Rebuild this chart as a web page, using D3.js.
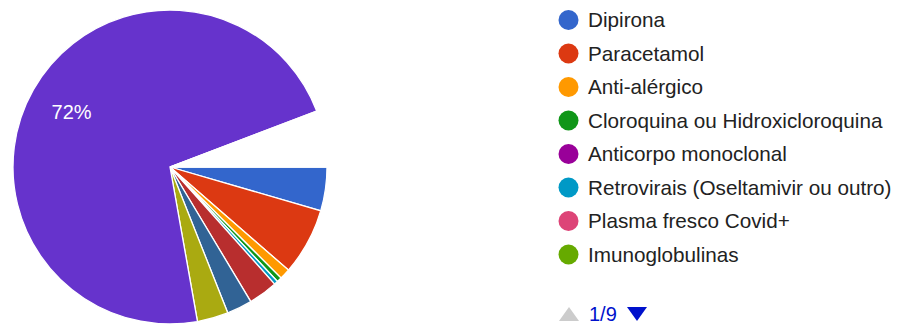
<!DOCTYPE html>
<html>
<head>
<meta charset="utf-8">
<script src="https://cdn.jsdelivr.net/npm/d3@7"></script>
<style>
  body { margin: 0; background: #fff; }
  text { font-family: "Liberation Sans", Arial, sans-serif; }
</style>
</head>
<body>
<script>
// legend categories (page 1 of 9)
const categories = [
  "Dipirona", "Paracetamol", "Anti-alérgico", "Cloroquina ou Hidroxicloroquina",
  "Anticorpo monoclonal", "Retrovirais (Oseltamivir ou outro)", "Plasma fresco Covid+", "Imunoglobulinas"
];
// slice shares in %, in drawing order (the first 8 match the legend, rest are on later legend pages)
const sliceNames = categories.concat(["Outro 9", "Outro 10", "Outro 11", "Outro 12", "Outro 13", "Outro 14", "Outro 15", "Outro 16"]);
const sliceValues = [4.5, 6.9, 1.1, 0.5, 0, 0.4, 0, 0, 3.0, 2.6, 0, 0, 3.2, 72.0, 0.1, 5.7];
const sliceColors = [
  "#3366cc", "#dc3912", "#ff9900", "#109618", "#990099", "#0099c6", "#dd4477", "#66aa00",
  "#b82e2e", "#316395", "#994499", "#22aa99", "#aaaa11", "#6633cc", "#e67300", "#ffffff"
];
const pageLabel = "1/9";

const width = 900, height = 326;
const cx = 170, cy = 167, radius = 157;

const svg = d3.select("body").append("svg")
  .attr("width", width)
  .attr("height", height);

const data = sliceNames.map(function (n, i) { return { name: n, value: sliceValues[i], color: sliceColors[i] }; });
const total = d3.sum(data, function (d) { return d.value; });

// pie starts at 3 o'clock and goes clockwise
const pie = d3.pie()
  .sort(null)
  .value(function (d) { return d.value; })
  .startAngle(Math.PI / 2)
  .endAngle(Math.PI / 2 + 2 * Math.PI);

const arc = d3.arc().innerRadius(0).outerRadius(radius);
const labelArc = d3.arc().innerRadius(radius * 0.72).outerRadius(radius * 0.72);

const g = svg.append("g").attr("transform", "translate(" + cx + "," + cy + ")");

const arcs = pie(data);

g.selectAll("path.slice")
  .data(arcs.filter(function (d) { return d.data.value > 0; }))
  .enter().append("path")
  .attr("class", "slice")
  .attr("d", arc)
  .attr("fill", function (d) { return d.data.color; })
  .attr("stroke", "#fff")
  .attr("stroke-width", 1.3);

// percentage labels on large slices
g.selectAll("text.pct")
  .data(arcs.filter(function (d) { return d.data.value / total >= 0.1; }))
  .enter().append("text")
  .attr("class", "pct")
  .attr("transform", function (d) { return "translate(" + labelArc.centroid(d) + ")"; })
  .attr("text-anchor", "middle")
  .attr("dy", "0.36em")
  .attr("fill", "#fff")
  .style("font-size", "20px")
  .text(function (d) { return Math.round(d.data.value / total * 100) + "%"; });

// legend
const legendY = d3.scalePoint().domain(categories).range([20, 254.5]);
const legend = svg.append("g").attr("class", "legend");

const rows = legend.selectAll("g.row")
  .data(categories)
  .enter().append("g")
  .attr("class", "row")
  .attr("transform", function (d) { return "translate(568.5," + legendY(d) + ")"; });

rows.append("circle")
  .attr("r", 10)
  .attr("fill", function (d, i) { return sliceColors[i]; });

rows.append("text")
  .attr("x", 19.5)
  .attr("y", 7)
  .attr("fill", "#222")
  .style("font-size", "20.7px")
  .text(function (d) { return d; });

// pager
const pager = svg.append("g").attr("transform", "translate(0,314)");
pager.append("path")
  .attr("d", "M559,7 L579,7 L569,-7 Z")
  .attr("fill", "#cccccc");
pager.append("text")
  .attr("x", 589)
  .attr("y", 7)
  .attr("fill", "#0011cc")
  .style("font-size", "20px")
  .text(pageLabel);
pager.append("path")
  .attr("d", "M627,-7 L647,-7 L637,7 Z")
  .attr("fill", "#0011cc");
</script>
</body>
</html>
